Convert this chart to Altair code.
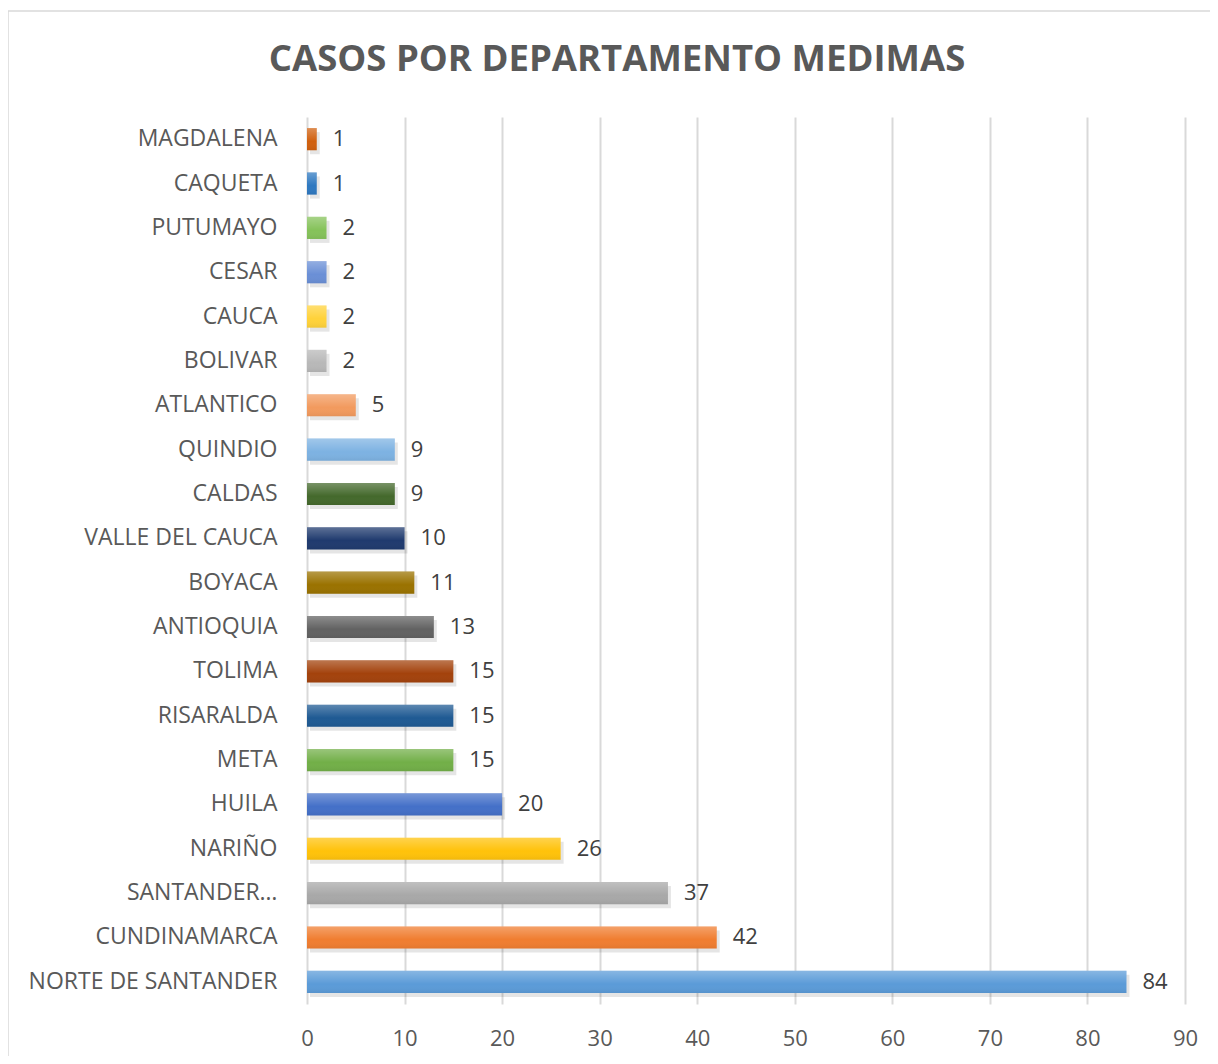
import altair as alt
import pandas as pd

categories = ["MAGDALENA", "CAQUETA", "PUTUMAYO", "CESAR", "CAUCA", "BOLIVAR",
              "ATLANTICO", "QUINDIO", "CALDAS", "VALLE DEL CAUCA", "BOYACA",
              "ANTIOQUIA", "TOLIMA", "RISARALDA", "META", "HUILA", "NARIÑO",
              "SANTANDER…", "CUNDINAMARCA", "NORTE DE SANTANDER"]
values = [1, 1, 2, 2, 2, 2, 5, 9, 9, 10, 11, 13, 15, 15, 15, 20, 26, 37, 42, 84]
colors = ["#D0600F", "#2E78C0", "#85C25A", "#6A8FD6", "#FFD23A", "#B8B8B8",
          "#F29A5E", "#7DB2E2", "#44692C", "#1F3A6E", "#9A7200", "#626262",
          "#A3420C", "#1F5A93", "#72AF48", "#4470C8", "#FFC20A", "#A8A8A8",
          "#F07D30", "#5B9BD8"]
x_ticks = [0, 10, 20, 30, 40, 50, 60, 70, 80, 90]
title_text = "CASOS POR DEPARTAMENTO MEDIMAS"

df = pd.DataFrame({"dep": categories, "casos": values})

FONT = "Open Sans"
W, H = 878, 887

y_enc = alt.Y("dep:N", sort=categories,
              scale=alt.Scale(paddingInner=0.5, paddingOuter=0.25),
              axis=alt.Axis(title=None, ticks=False, domain=False,
                            labelFont=FONT, labelFontSize=23,
                            labelColor="#595959", labelPadding=30,
                            labelLimit=320))
x_enc = alt.X("casos:Q", scale=alt.Scale(domain=[0, 90], nice=False),
              axis=alt.Axis(title=None, values=x_ticks, ticks=False,
                            domain=False, grid=True, gridColor="#D9D9D9",
                            gridWidth=2, labelFont=FONT, labelFontSize=22,
                            labelColor="#595959", labelPadding=24,
                            labelFlush=False))

shadow = alt.Chart(df).mark_bar(color="#000000", opacity=0.10,
                                yOffset=4, xOffset=3).encode(
    x=alt.X("casos:Q"), y=alt.Y("dep:N", sort=categories)
)

bars = alt.Chart(df).mark_bar().encode(
    x=x_enc, y=y_enc,
    color=alt.Color("dep:N", scale=alt.Scale(domain=categories, range=colors),
                    legend=None),
)

sheen = alt.Chart(df).mark_bar(
    color=alt.Gradient(
        gradient="linear", x1=0, x2=0, y1=0, y2=1,
        stops=[alt.GradientStop(color="rgba(255,255,255,0.28)", offset=0),
               alt.GradientStop(color="rgba(255,255,255,0.0)", offset=0.6),
               alt.GradientStop(color="rgba(0,0,0,0.06)", offset=1)])
).encode(x=alt.X("casos:Q"), y=alt.Y("dep:N", sort=categories))

labels = alt.Chart(df).mark_text(align="left", baseline="middle", dx=16,
                                 font=FONT, fontSize=22, color="#404040").encode(
    x="casos:Q", y=alt.Y("dep:N", sort=categories), text="casos:Q"
)

frame = alt.Chart(pd.DataFrame({"a": [0]})).mark_rect(
    fill="transparent", stroke="#D9D9D9", strokeWidth=1.5
).encode(
    x=alt.value(-299), x2=alt.value(925),
    y=alt.value(-106), y2=alt.value(960)
)

title = alt.Chart(pd.DataFrame({"t": [title_text]})).mark_text(
    font=FONT, fontSize=36.5, fontWeight="bold", color="#595959",
    align="center", baseline="middle"
).encode(x=alt.value(310), y=alt.value(-57), text="t:N")

chart = alt.layer(frame, title, shadow, bars, sheen, labels).properties(
    width=W, height=H,
    autosize=alt.AutoSizeParams(type="none"),
    padding={"left": 299, "top": 109, "right": 25, "bottom": 52},
).configure_view(stroke=None)

chart.save("out.html", embed_options={"renderer": "svg", "actions": False})
